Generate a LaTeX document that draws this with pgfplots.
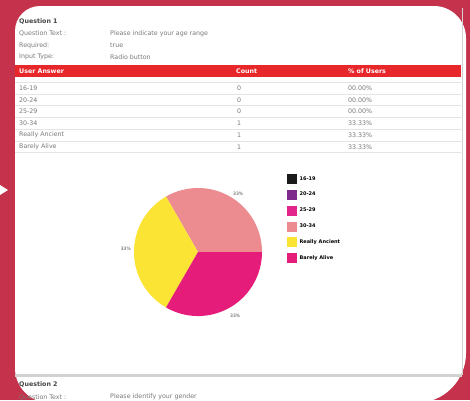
\documentclass[border=0pt]{standalone}
\usepackage{fontspec}
\setmainfont{DejaVu Sans}
\usepackage{pgfplots}
\usepackage{pgfplotstable}
\pgfplotsset{compat=1.18}

\definecolor{bgred}{HTML}{C4324B}
\definecolor{hdrred}{HTML}{E8272B}
\definecolor{txt}{HTML}{7A7A7A}
\definecolor{txtdark}{HTML}{454545}
\definecolor{rowrule}{HTML}{E4E4E4}
\definecolor{sep}{HTML}{D2D2D2}
\definecolor{cA}{HTML}{1A1A1A}
\definecolor{cB}{HTML}{7D2A8C}
\definecolor{cC}{HTML}{E2258C}
\definecolor{cD}{HTML}{EC8C90}
\definecolor{cE}{HTML}{FBE434}
\definecolor{cF}{HTML}{E51C7A}

\newcommand\fs[1]{\fontsize{#1}{#1}\selectfont}

% pie slices: centre, count, start and end angle (count/3 of 360 degrees)
\pgfplotstableread{
cx cy count start end
198 252 1 0 120
}\sliceD
\pgfplotstableread{
cx cy count start end
198 252 1 120 240
}\sliceE
\pgfplotstableread{
cx cy count start end
198 252 1 240 360
}\sliceF

\pgfdeclareplotmark{wedge}{%
  \pgfpathmoveto{\pgfpointorigin}%
  \pgfpathlineto{\pgfpointpolar{\sa}{64pt}}%
  \pgfpatharc{\sa}{\ea}{64pt}%
  \pgfpathclose
  \pgfusepathqfill}

\pgfplotsset{
  wedgeplot/.style={scatter, only marks, mark=wedge,
    visualization depends on={\thisrow{start}\as\sa},
    visualization depends on={\thisrow{end}\as\ea},
    scatter/@pre marker code/.code={\pgfscope\pgfsetfillcolor{#1}},
    scatter/@post marker code/.code={\endpgfscope},
    legend image code/.code={\fill[#1] (0pt,-4.5pt) rectangle (9pt,4.5pt);}},
  sq/.style={legend image code/.code={\fill[#1] (0pt,-4.5pt) rectangle (9pt,4.5pt);}}
}
\tikzset{
  tl/.style={anchor=west, inner sep=0, text=txt, font=\fs{6.3}},
  tb/.style={anchor=west, inner sep=0, text=txtdark, font=\fs{6.3}\bfseries},
  th/.style={anchor=west, inner sep=0, text=white, font=\fs{6.3}\bfseries},
  rr/.style={rowrule, line width=0.8pt},
}

\begin{document}
\begin{tikzpicture}
\begin{axis}[
  scale only axis, width=470pt, height=400pt,
  xmin=0, xmax=470, ymin=0, ymax=400, y dir=reverse,
  axis lines=none, ticks=none, clip=false,
  legend style={at={(axis cs:284,172)}, anchor=north west, draw=none, fill=none,
    font=\fs{5}\bfseries, text=black, row sep=6.4pt,
    nodes={inner sep=0.6pt, anchor=west},
    /tikz/every odd column/.append style={column sep=2.4pt}},
  legend cell align=left,
]
% background and panel
\fill[bgred] (0,0) rectangle (470,400);
\fill[white] (0,185) -- (8,190) -- (0,195) -- cycle;
\fill[white] (15,31) arc[start angle=180, end angle=90, radius=25pt]
  -- (434,6) arc[start angle=90, end angle=0, radius=32pt]
  -- (466,353) arc[start angle=0, end angle=-90, radius=50pt]
  -- (50,403) arc[start angle=-90, end angle=-180, radius=35pt]
  -- cycle;
\draw[sep, line width=0.6pt] (462,8) -- (462,375);

% header text
\node[tb] at (19,22) {Question 1};
\node[tl] at (19,34) {Question Text :};
\node[tl] at (110,34) {Please indicate your age range};
\node[tl] at (19,45.5) {Required:};
\node[tl] at (110,45.5) {true};
\node[tl] at (19,57) {Input Type:};
\node[tl] at (110,57) {Radio button};

% results table
\fill[hdrred] (15,65) rectangle (461,77);
\node[th] at (19,71) {User Answer};
\node[th] at (236,71) {Count};
\node[th] at (348,71) {\% of Users};
\draw[rr] (15,82.5) -- (461,82.5);
\draw[rr] (15,94) -- (461,94);
\draw[rr] (15,105.8) -- (461,105.8);
\draw[rr] (15,117.5) -- (461,117.5);
\draw[rr] (15,129.3) -- (461,129.3);
\draw[rr] (15,141) -- (461,141);
\draw[rr] (15,152.8) -- (461,152.8);
\node[tl] at (19,88) {16-19};
\node[tl] at (237,88) {0};
\node[tl] at (348,88) {00.00\%};
\node[tl] at (19,99.8) {20-24};
\node[tl] at (237,99.8) {0};
\node[tl] at (348,99.8) {00.00\%};
\node[tl] at (19,111.6) {25-29};
\node[tl] at (237,111.6) {0};
\node[tl] at (348,111.6) {00.00\%};
\node[tl] at (19,123.3) {30-34};
\node[tl] at (237,123.3) {1};
\node[tl] at (348,123.3) {33.33\%};
\node[tl] at (19,135.1) {Really Ancient};
\node[tl] at (237,135.1) {1};
\node[tl] at (348,135.1) {33.33\%};
\node[tl] at (19,146.9) {Barely Alive};
\node[tl] at (237,146.9) {1};
\node[tl] at (348,146.9) {33.33\%};

% pie
\addlegendimage{sq=cA}\addlegendentry{16-19}
\addlegendimage{sq=cB}\addlegendentry{20-24}
\addlegendimage{sq=cC}\addlegendentry{25-29}
\addplot[wedgeplot=cD] table[x=cx, y=cy] {\sliceD};
\addlegendentry{30-34}
\addplot[wedgeplot=cE] table[x=cx, y=cy] {\sliceE};
\addlegendentry{Really Ancient}
\addplot[wedgeplot=cF] table[x=cx, y=cy] {\sliceF};
\addlegendentry{Barely Alive}

\node[anchor=west, inner sep=0, text=txtdark, font=\fs{4.5}] at (233,194) {33\%};
\node[anchor=east, inner sep=0, text=txtdark, font=\fs{4.5}] at (131,249) {33\%};
\node[anchor=west, inner sep=0, text=txtdark, font=\fs{4.5}] at (230,316) {33\%};

% next question
\draw[sep, line width=2.5pt] (15,375.5) -- (462,375.5);
\node[tb] at (19,385) {Question 2};
\node[tl] at (19,397) {Question Text :};
\node[tl] at (110,397) {Please identify your gender};
\end{axis}
\pgfresetboundingbox
\path[use as bounding box] (current axis.south west) rectangle (current axis.north east);
\end{tikzpicture}
\end{document}
